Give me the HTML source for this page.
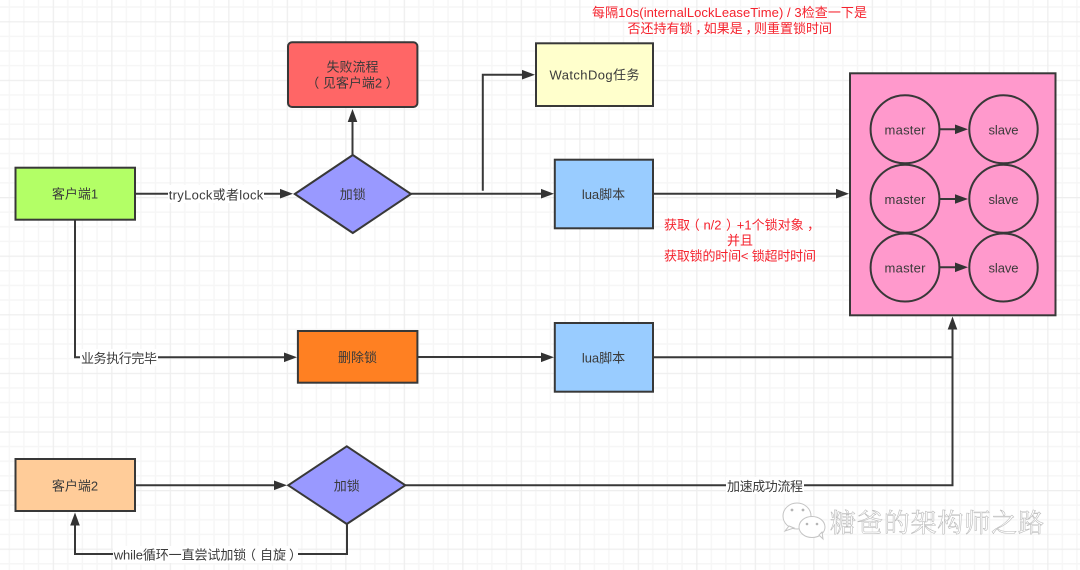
<!DOCTYPE html>
<html lang="zh">
<head>
<meta charset="utf-8">
<title>Redisson lock flow</title>
<style>
html,body{margin:0;padding:0;background:#fff;width:1080px;height:570px;overflow:hidden}
svg{display:block;filter:blur(.35px)}
text{font-family:"Liberation Sans","Noto Sans CJK SC",sans-serif;font-size:13px;fill:#3a3a3a;text-anchor:middle;dominant-baseline:central;white-space:pre}
.red text{fill:#f5222d}
.s{stroke:#383838;stroke-width:2;}
.l{fill:none;stroke:#383838;stroke-width:2}
.h{fill:#333;stroke:none}
</style>
</head>
<body>
<svg width="1080" height="570" viewBox="0 0 1080 570" xmlns="http://www.w3.org/2000/svg">
<defs>
<pattern id="g" x="52.7" y="21.2" width="58.5" height="58.6" patternUnits="userSpaceOnUse">
<path d="M15.1 0V58.6M29.75 0V58.6M44.4 0V58.6M0 15.15H58.5M0 29.8H58.5M0 44.45H58.5" stroke="#f6f6f6" stroke-width="1.4" fill="none"/>
<path d="M0.5 0V58.6M0 0.5H58.5" stroke="#eeeeee" stroke-width="1.5" fill="none"/>
</pattern>
</defs>
<rect width="1080" height="570" fill="#fff"/>
<rect width="1080" height="570" fill="url(#g)"/>

<!-- connectors -->
<path class="l" d="M135 193.7H282"/>
<path class="l" d="M352.5 155V120"/>
<path class="l" d="M411 193.7H543"/>
<path class="l" d="M482.8 190.7V74.7H524"/>
<path class="l" d="M653 193.7H838"/>
<path class="l" d="M75 220V357.3H286"/>
<path class="l" d="M417.4 357H543"/>
<path class="l" d="M653 357.3H952.5"/>
<path class="l" d="M135 485.3H276"/>
<path class="l" d="M405.3 485.3H952.5V328"/>
<path class="l" d="M347 524V554H75V524"/>

<!-- arrowheads -->
<path class="h" d="M293 193.7L280 188.9V198.5Z"/>
<path class="h" d="M352.5 109L347.7 122H357.3Z"/>
<path class="h" d="M535 74.7L522 69.9V79.5Z"/>
<path class="h" d="M554 193.7L541 188.9V198.5Z"/>
<path class="h" d="M849 193.7L836 188.9V198.5Z"/>
<path class="h" d="M297 357.3L284 352.5V362.1Z"/>
<path class="h" d="M554 357.3L541 352.5V362.1Z"/>
<path class="h" d="M952.5 316.5L947.7 329.5H957.3Z"/>
<path class="h" d="M287 485.3L274 480.5V490.1Z"/>
<path class="h" d="M75 512.5L70.2 525.5H79.8Z"/>

<!-- nodes -->
<rect class="s" x="15.5" y="167.7" width="119.5" height="52" fill="#b3ff66"/>
<text x="75" y="194">客户端1</text>

<rect class="s" x="288" y="42.3" width="129.4" height="64.7" rx="4" fill="#ff6666"/>
<text x="352.5" y="67">失败流程</text>
<text x="352.5" y="83">（ 见客户端2 ）</text>

<path class="s" d="M294.8 194L352.8 155L411 194L352.8 233Z" fill="#9999ff"/>
<text x="352.7" y="194.5">加锁</text>

<rect class="s" x="536" y="43.3" width="117" height="62.7" fill="#ffffcc"/>
<text x="594.5" y="75" textLength="90">WatchDog任务</text>

<rect class="s" x="554.8" y="159.7" width="98.2" height="68.6" fill="#99ccff"/>
<text x="603.5" y="194.5">lua脚本</text>

<rect class="s" x="297.9" y="331" width="119.5" height="51.7" fill="#ff8022"/>
<text x="357.5" y="357.5">删除锁</text>

<rect class="s" x="554.8" y="323" width="98.2" height="68.7" fill="#99ccff"/>
<text x="603.5" y="358">lua脚本</text>

<rect class="s" x="15.5" y="459" width="119.5" height="52" fill="#ffcc99"/>
<text x="75" y="486">客户端2</text>

<path class="s" d="M288.2 485.3L346.8 446.3L405.3 485.3L346.8 524Z" fill="#9999ff"/>
<text x="346.8" y="486">加锁</text>

<!-- pink cluster -->
<rect class="s" x="850" y="73.3" width="205.5" height="242" fill="#ff99cc"/>
<ellipse class="s" cx="905" cy="129.3" rx="34.4" ry="34" fill="#ff99cc"/>
<ellipse class="s" cx="1003.5" cy="129.3" rx="34.2" ry="34" fill="#ff99cc"/>
<ellipse class="s" cx="905" cy="198.8" rx="34.4" ry="34" fill="#ff99cc"/>
<ellipse class="s" cx="1003.5" cy="198.8" rx="34.2" ry="34" fill="#ff99cc"/>
<ellipse class="s" cx="905" cy="267.5" rx="34.4" ry="34" fill="#ff99cc"/>
<ellipse class="s" cx="1003.5" cy="267.5" rx="34.2" ry="34" fill="#ff99cc"/>
<path class="l" d="M939.4 129.3H957M939.4 199H957M939.4 267.3H957"/>
<path class="h" d="M968 129.3L955 124.5V134.1ZM968 199L955 194.2V203.8ZM968 267.3L955 262.5V272.1Z"/>
<text x="905" y="130" textLength="41">master</text>
<text x="1003.5" y="130" textLength="30">slave</text>
<text x="905" y="199.5" textLength="41">master</text>
<text x="1003.5" y="199.5" textLength="30">slave</text>
<text x="905" y="268" textLength="41">master</text>
<text x="1003.5" y="268" textLength="30">slave</text>

<!-- edge labels -->
<rect x="168" y="185" width="96" height="18" fill="#fff"/>
<text x="216" y="195" textLength="94.5">tryLock或者lock</text>
<rect x="80" y="349" width="78" height="17" fill="#fff"/>
<text x="119" y="358.5" textLength="76">业务执行完毕</text>
<rect x="726" y="477" width="78" height="17" fill="#fff"/>
<text x="765" y="486.5" textLength="76">加速成功流程</text>
<rect x="113" y="546" width="185" height="17" fill="#fff"/>
<text x="180" y="555" textLength="132.5">while循环一直尝试加锁</text>
<text x="249.5" y="555">（</text>
<text x="273" y="555">自旋</text>
<text x="295.5" y="555">）</text>

<!-- red notes -->
<g class="red">
<text x="729.5" y="12.7" textLength="275">每隔10s(internalLockLeaseTime) / 3检查一下是</text>
<text x="660" y="28.5">否还持有锁</text>
<text x="701.7" y="28.5">，</text>
<text x="723.2" y="28.5">如果是</text>
<text x="752" y="28.5">，</text>
<text x="793" y="28.5">则重置锁时间</text>
<text x="677" y="225">获取</text>
<text x="693.2" y="225">（</text>
<text x="712.5" y="225">n/2</text>
<text x="732.5" y="225">）</text>
<text x="770.2" y="225">+1个锁对象</text>
<text x="813.6" y="225">，</text>
<text x="740" y="240.5">并且</text>
<text x="740" y="256" textLength="152">获取锁的时间&lt; 锁超时时间</text>
</g>

<!-- watermark -->
<g fill="#fff" stroke="#c4c4c4" stroke-width="1">
<ellipse cx="797" cy="516" rx="14" ry="13"/>
<path d="M789 526L785 531L794 528Z"/>
<ellipse cx="812" cy="527" rx="13" ry="10.5"/>
<path d="M819 535L823 539L822 532Z"/>
</g>
<g fill="#b5b5b5">
<circle cx="792" cy="510" r="1.4"/><circle cx="803" cy="510" r="1.4"/>
<circle cx="807" cy="524" r="1.3"/><circle cx="817" cy="524" r="1.3"/>
</g>
<text x="937" y="521.5" textLength="214" style="font-size:26px;font-family:'Noto Serif CJK SC','Noto Sans CJK SC',sans-serif;fill:#fff;stroke:#bcbcbc;stroke-width:.6px">糖爸的架构师之路</text>
</svg>
</body>
</html>
